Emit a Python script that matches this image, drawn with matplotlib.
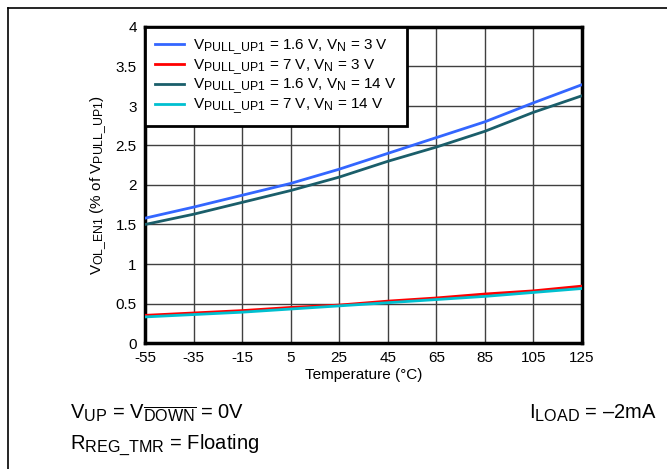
import matplotlib
matplotlib.use("Agg")
import matplotlib.pyplot as plt
from matplotlib.lines import Line2D
import matplotlib._mathtext as _mt

_mt.SHRINK_FACTOR = 0.8

plt.rcParams['font.family'] = ['Liberation Sans', 'DejaVu Sans']
plt.rcParams['mathtext.fontset'] = 'custom'
plt.rcParams['mathtext.rm'] = 'Liberation Sans'
plt.rcParams['mathtext.it'] = 'Liberation Sans'
plt.rcParams['mathtext.bf'] = 'Liberation Sans:bold'

temps = [-55, -35, -15, 5, 25, 45, 65, 85, 105, 125]
blue_16v_3v = [1.58, 1.72, 1.87, 2.02, 2.20, 2.40, 2.60, 2.80, 3.04, 3.27]
red_7v_3v = [0.35, 0.38, 0.41, 0.45, 0.48, 0.53, 0.57, 0.62, 0.66, 0.72]
teal_16v_14v = [1.50, 1.63, 1.78, 1.93, 2.10, 2.30, 2.48, 2.68, 2.92, 3.13]
cyan_7v_14v = [0.33, 0.36, 0.39, 0.43, 0.47, 0.51, 0.55, 0.59, 0.64, 0.69]

labels = [r'V$_{\mathrm{PULL\_UP1}}$ = 1.6 V, V$_{\mathrm{N}}$ = 3 V',
          r'V$_{\mathrm{PULL\_UP1}}$ = 7 V, V$_{\mathrm{N}}$ = 3 V',
          r'V$_{\mathrm{PULL\_UP1}}$ = 1.6 V, V$_{\mathrm{N}}$ = 14 V',
          r'V$_{\mathrm{PULL\_UP1}}$ = 7 V, V$_{\mathrm{N}}$ = 14 V']
colors = ['#3366ff', '#ff0000', '#1a5e6a', '#00c0d0']
yticks = [0, 0.5, 1, 1.5, 2, 2.5, 3, 3.5, 4]
ytick_labels = ['0', '0.5', '1', '1.5', '2', '2.5', '3', '3.5', '4']

fig = plt.figure(figsize=(6.67, 4.69), dpi=100)
ax = fig.add_axes([145/667, 1-343/469, (582-145)/667, (343-27)/469])

for ys, c, lab in zip([blue_16v_3v, red_7v_3v, teal_16v_14v, cyan_7v_14v], colors, labels):
    ax.plot(temps, ys, color=c, lw=2, label=lab, zorder=3)

ax.set_xlim(-55, 125)
ax.set_ylim(0, 4)
ax.set_xticks(temps)
ax.set_xticklabels([str(t) for t in temps])
ax.set_yticks(yticks)
ax.set_yticklabels(ytick_labels)
ax.tick_params(length=0, labelsize=11, pad=6)
ax.grid(True, color='#404040', lw=1, zorder=1)
for s in ax.spines.values():
    s.set_linewidth(2.5)
ax.set_xlabel('Temperature (°C)', fontsize=11, labelpad=2)
ax.set_ylabel(r'V$_{\mathrm{OL\_EN1}}$ (% of V$_{\mathrm{PULL\_UP1}}$)', fontsize=11, labelpad=5)

leg = ax.legend(loc='upper left', fontsize=11, frameon=True, fancybox=False,
                borderaxespad=0, handlelength=1.9, labelspacing=0.0,
                borderpad=0.65, handletextpad=0.6)
leg.get_frame().set_edgecolor('black')
leg.get_frame().set_linewidth(2)
leg.get_frame().set_alpha(1)

fig.add_artist(Line2D([8/667, 1], [1-8/469, 1-8/469], color='black', lw=1.2))
fig.add_artist(Line2D([8/667, 8/667], [0, 1-8/469], color='black', lw=1.2))

fig.text(70/667, 1-413/469, r'V$_{\mathrm{UP}}$ = V$_{\overline{\mathrm{DOWN}}}$ = 0V', fontsize=14.5, va='center')
fig.text(657/667, 1-413/469, r'I$_{\mathrm{LOAD}}$ = –2mA', fontsize=14.5, va='center', ha='right')
fig.text(70/667, 1-445/469, r'R$_{\mathrm{REG\_TMR}}$ = Floating', fontsize=14.5, va='center')

fig.savefig('out.png', dpi=100)
